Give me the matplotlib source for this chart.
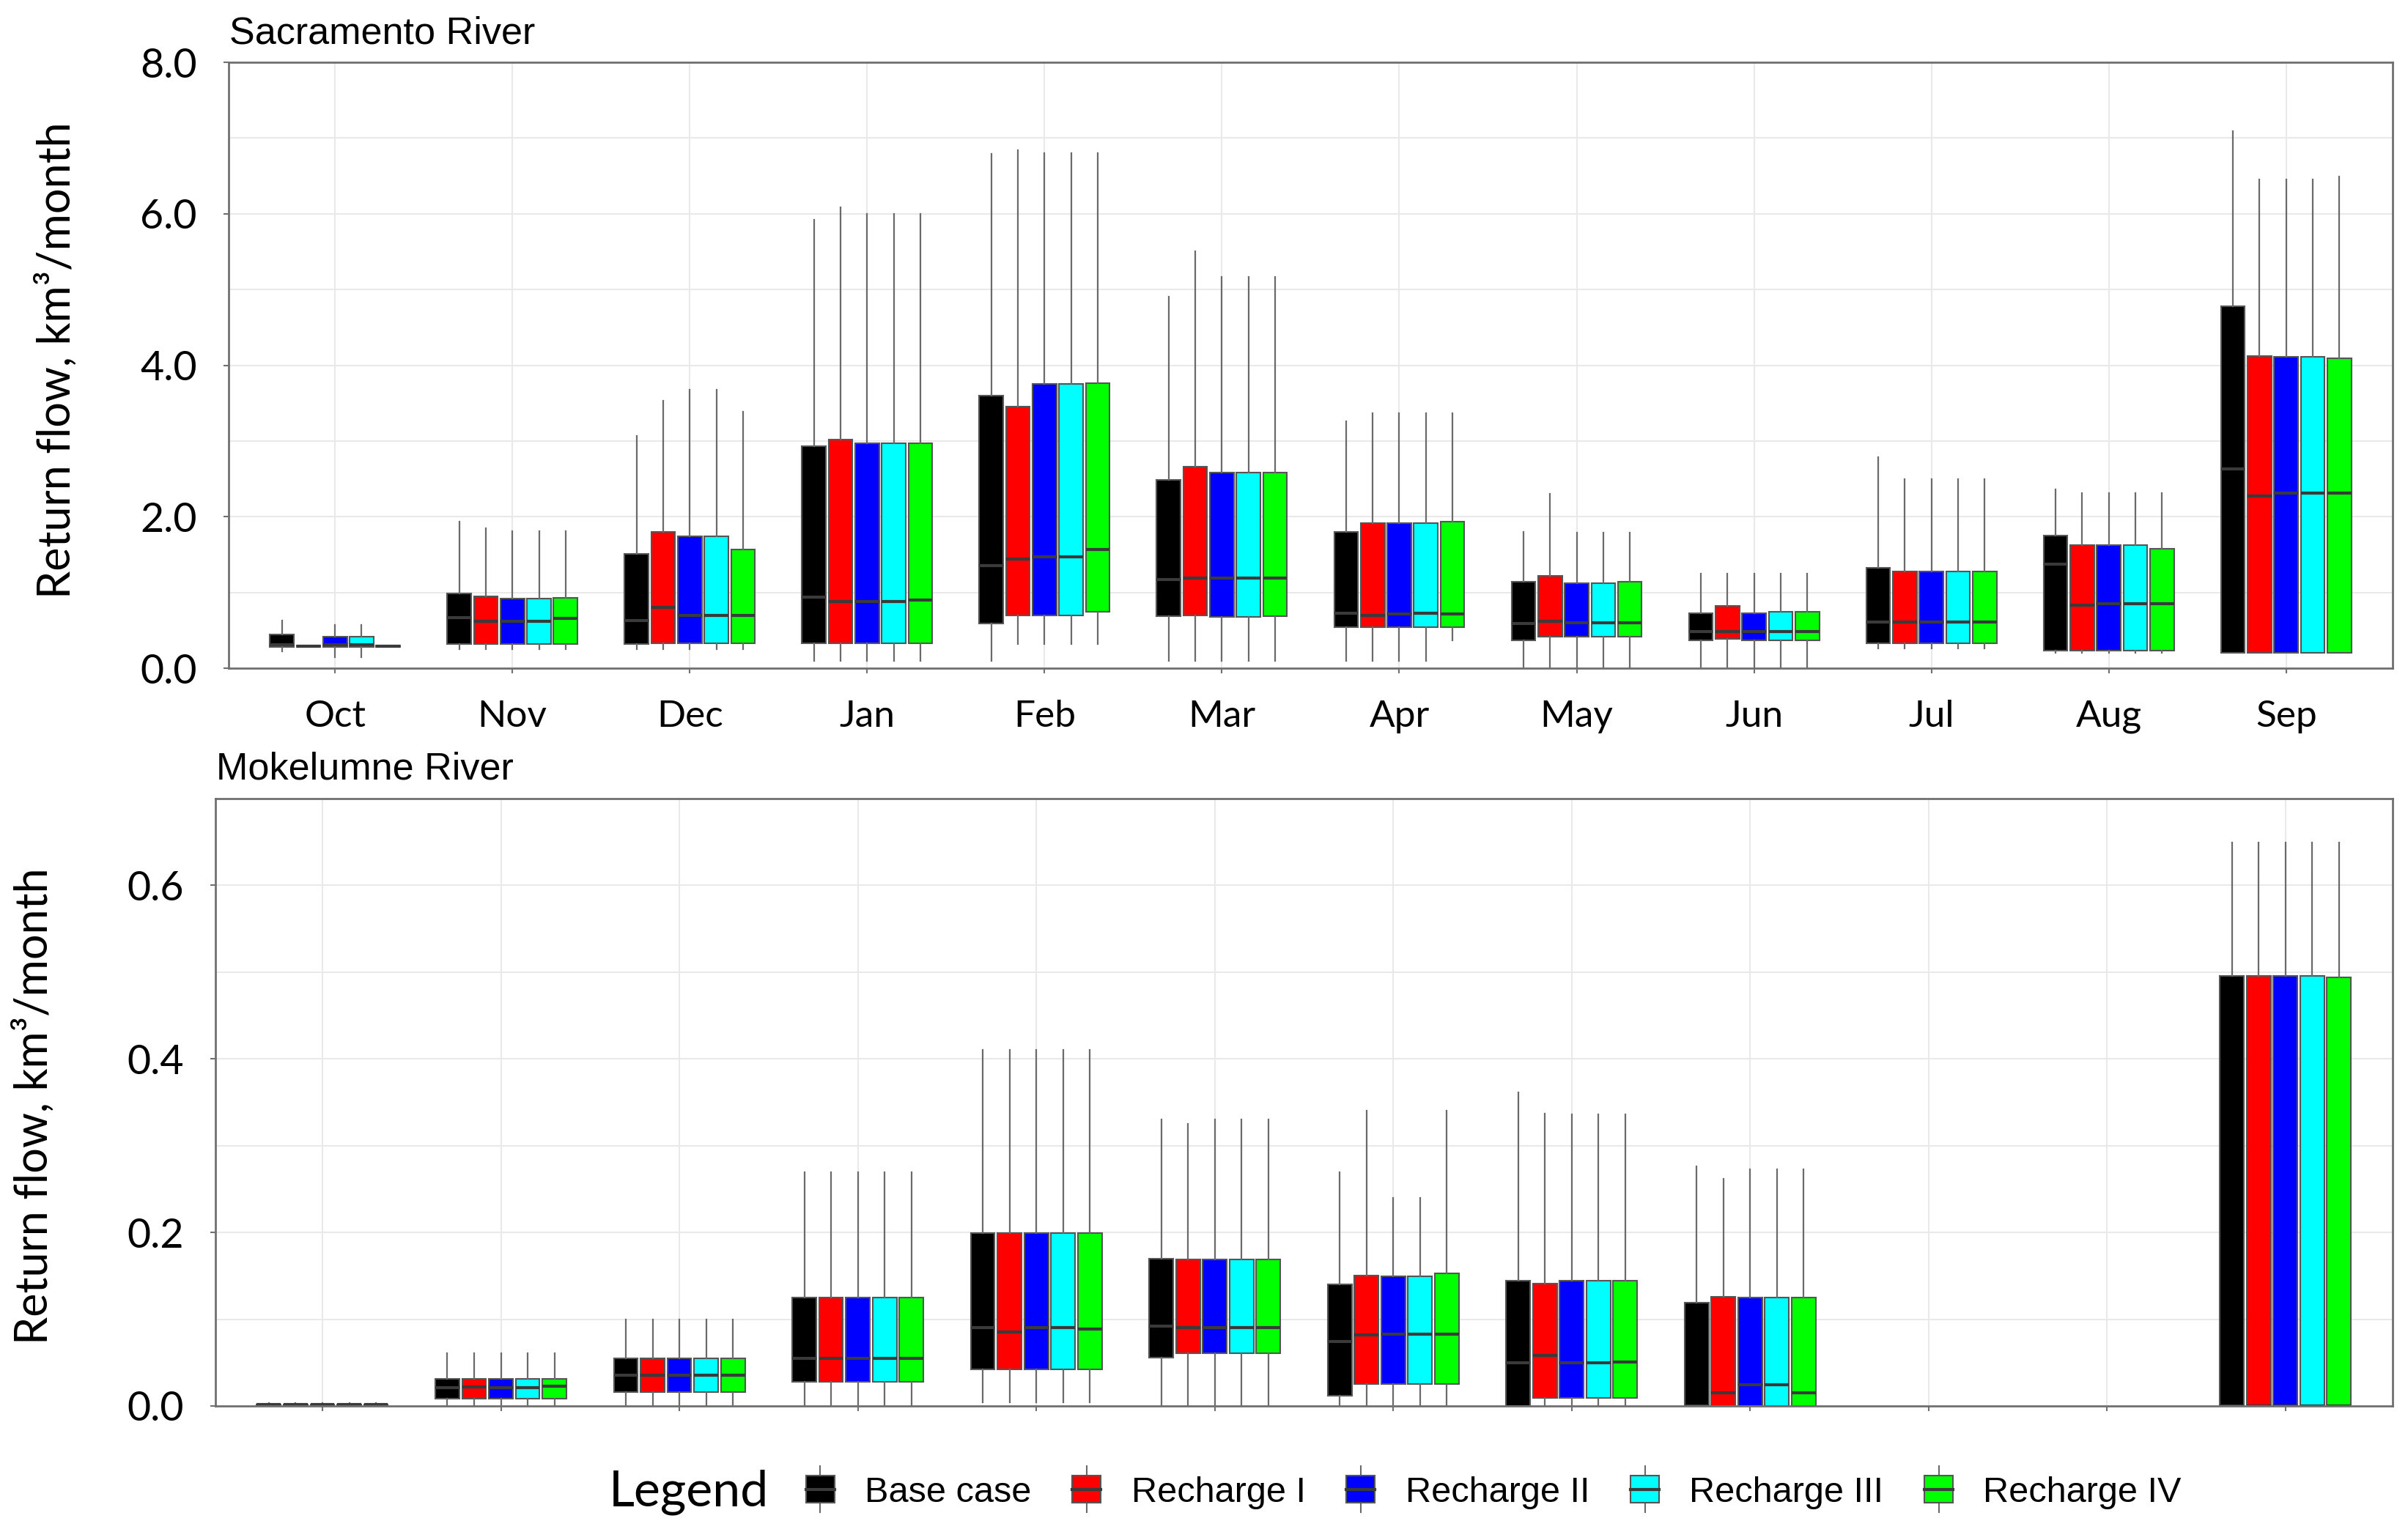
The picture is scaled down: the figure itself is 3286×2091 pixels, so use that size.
import numpy as np
import matplotlib.pyplot as plt
from matplotlib.legend_handler import HandlerBase
from matplotlib.patches import Patch, Rectangle
from matplotlib.lines import Line2D
from matplotlib.ticker import MultipleLocator, FormatStrFormatter

# months and scenarios
months = ['Oct', 'Nov', 'Dec', 'Jan', 'Feb', 'Mar', 'Apr', 'May', 'Jun', 'Jul', 'Aug', 'Sep']
scenarios = ['Base case', 'Recharge I', 'Recharge II', 'Recharge III', 'Recharge IV']
colors = ['#000000', '#ff0000', '#0000ff', '#00ffff', '#00ff00']
nan = np.nan

# Sacramento River, km3/month (rows = scenarios, cols = months)
sac_lo = [[0.22, 0.25, 0.25, 0.10, 0.10, 0.10, 0.10, 0.00, 0.00, 0.26, 0.20, 0.20],
          [0.28, 0.25, 0.25, 0.10, 0.32, 0.10, 0.10, 0.00, 0.00, 0.26, 0.20, 0.20],
          [0.15, 0.25, 0.25, 0.10, 0.32, 0.10, 0.10, 0.00, 0.00, 0.26, 0.20, 0.20],
          [0.15, 0.25, 0.25, 0.10, 0.32, 0.10, 0.10, 0.00, 0.00, 0.26, 0.20, 0.20],
          [0.28, 0.25, 0.25, 0.10, 0.32, 0.10, 0.37, 0.00, 0.00, 0.26, 0.20, 0.20]]
sac_q1 = [[0.28, 0.32, 0.32, 0.33, 0.59, 0.69, 0.54, 0.37, 0.37, 0.33, 0.23, 0.20],
          [0.28, 0.32, 0.33, 0.33, 0.70, 0.70, 0.54, 0.42, 0.39, 0.33, 0.23, 0.20],
          [0.28, 0.32, 0.33, 0.33, 0.70, 0.68, 0.54, 0.42, 0.37, 0.33, 0.23, 0.20],
          [0.28, 0.32, 0.33, 0.33, 0.70, 0.68, 0.54, 0.42, 0.37, 0.33, 0.23, 0.20],
          [0.28, 0.32, 0.33, 0.33, 0.75, 0.69, 0.54, 0.42, 0.37, 0.33, 0.23, 0.20]]
sac_med = [[0.31, 0.67, 0.63, 0.94, 1.36, 1.17, 0.73, 0.59, 0.48, 0.61, 1.37, 2.63],
           [0.29, 0.62, 0.80, 0.88, 1.44, 1.19, 0.70, 0.62, 0.48, 0.61, 0.83, 2.27],
           [0.31, 0.62, 0.70, 0.88, 1.47, 1.19, 0.72, 0.60, 0.48, 0.61, 0.85, 2.31],
           [0.31, 0.62, 0.70, 0.88, 1.47, 1.19, 0.73, 0.60, 0.48, 0.61, 0.85, 2.31],
           [0.29, 0.66, 0.70, 0.90, 1.57, 1.19, 0.72, 0.60, 0.48, 0.61, 0.85, 2.31]]
sac_q3 = [[0.45, 0.99, 1.51, 2.93, 3.60, 2.49, 1.80, 1.14, 0.73, 1.33, 1.75, 4.78],
          [0.30, 0.95, 1.80, 3.02, 3.45, 2.66, 1.92, 1.22, 0.82, 1.28, 1.63, 4.12],
          [0.42, 0.92, 1.74, 2.97, 3.75, 2.58, 1.92, 1.12, 0.73, 1.28, 1.63, 4.11],
          [0.42, 0.92, 1.74, 2.97, 3.75, 2.58, 1.92, 1.12, 0.75, 1.28, 1.63, 4.11],
          [0.30, 0.93, 1.57, 2.97, 3.76, 2.58, 1.94, 1.14, 0.75, 1.28, 1.58, 4.09]]
sac_hi = [[0.63, 1.94, 3.07, 5.92, 6.79, 4.91, 3.26, 1.80, 1.25, 2.79, 2.36, 7.09],
          [0.30, 1.85, 3.53, 6.09, 6.84, 5.51, 3.37, 2.30, 1.25, 2.50, 2.31, 6.45],
          [0.57, 1.81, 3.68, 6.00, 6.80, 5.17, 3.37, 1.79, 1.25, 2.50, 2.31, 6.45],
          [0.57, 1.81, 3.68, 6.00, 6.80, 5.17, 3.37, 1.79, 1.25, 2.50, 2.31, 6.45],
          [0.30, 1.81, 3.39, 6.00, 6.80, 5.17, 3.37, 1.79, 1.25, 2.50, 2.31, 6.49]]

# Mokelumne River, km3/month (no boxes drawn in Jul/Aug)
mok_lo = [[0.001, 0.0, 0.0, 0.0, 0.004, 0.0, 0.0, 0.0, 0.0, nan, nan, 0.0],
          [0.001, 0.0, 0.0, 0.0, 0.004, 0.0, 0.0, 0.0, 0.0, nan, nan, 0.0],
          [0.001, 0.0, 0.0, 0.0, 0.004, 0.0, 0.0, 0.0, 0.0, nan, nan, 0.0],
          [0.001, 0.0, 0.0, 0.0, 0.004, 0.0, 0.0, 0.0, 0.0, nan, nan, 0.0],
          [0.001, 0.0, 0.0, 0.0, 0.004, 0.0, 0.0, 0.0, 0.0, nan, nan, 0.0]]
mok_q1 = [[0.001, 0.0085, 0.016, 0.028, 0.042, 0.056, 0.012, 0.0, 0.0, nan, nan, 0.0],
          [0.001, 0.0085, 0.016, 0.028, 0.042, 0.061, 0.025, 0.0095, 0.0, nan, nan, 0.0],
          [0.001, 0.0085, 0.016, 0.028, 0.042, 0.061, 0.025, 0.0095, 0.0, nan, nan, 0.0],
          [0.001, 0.0085, 0.016, 0.028, 0.042, 0.061, 0.025, 0.0095, 0.0, nan, nan, 0.0],
          [0.001, 0.0085, 0.016, 0.028, 0.042, 0.061, 0.025, 0.0095, 0.0, nan, nan, 0.0]]
mok_med = [[0.0015, 0.021, 0.035, 0.055, 0.090, 0.092, 0.074, 0.050, 0.0, nan, nan, 0.0],
           [0.0015, 0.022, 0.035, 0.055, 0.085, 0.090, 0.082, 0.058, 0.015, nan, nan, 0.0],
           [0.0015, 0.021, 0.035, 0.055, 0.090, 0.090, 0.083, 0.050, 0.024, nan, nan, 0.0],
           [0.0015, 0.021, 0.035, 0.055, 0.090, 0.090, 0.083, 0.050, 0.024, nan, nan, 0.0],
           [0.0015, 0.023, 0.035, 0.055, 0.089, 0.090, 0.083, 0.051, 0.015, nan, nan, 0.0]]
mok_q3 = [[0.002, 0.031, 0.055, 0.125, 0.199, 0.170, 0.140, 0.144, 0.119, nan, nan, 0.496],
          [0.002, 0.031, 0.055, 0.125, 0.199, 0.169, 0.150, 0.141, 0.126, nan, nan, 0.496],
          [0.002, 0.031, 0.055, 0.125, 0.199, 0.169, 0.149, 0.144, 0.125, nan, nan, 0.496],
          [0.002, 0.031, 0.055, 0.125, 0.199, 0.169, 0.149, 0.144, 0.125, nan, nan, 0.496],
          [0.002, 0.031, 0.055, 0.125, 0.199, 0.169, 0.153, 0.144, 0.125, nan, nan, 0.494]]
mok_hi = [[0.003, 0.061, 0.100, 0.269, 0.410, 0.330, 0.269, 0.361, 0.276, nan, nan, 0.649],
          [0.003, 0.061, 0.100, 0.269, 0.410, 0.325, 0.340, 0.337, 0.262, nan, nan, 0.649],
          [0.003, 0.061, 0.100, 0.269, 0.410, 0.330, 0.240, 0.336, 0.273, nan, nan, 0.649],
          [0.003, 0.061, 0.100, 0.269, 0.410, 0.330, 0.240, 0.336, 0.273, nan, nan, 0.649],
          [0.003, 0.061, 0.100, 0.269, 0.410, 0.330, 0.340, 0.336, 0.273, nan, nan, 0.649]]

TICK_FONT = 'Lato'
TEXT_FONT = 'Liberation Sans'
GRID = '#e9e9e9'
SPINE = '#707070'


def draw_panel(ax, lo, q1, med, q3, hi):
    x = np.arange(1, 13)
    for k in range(5):
        stats, pos = [], []
        for m in range(12):
            if np.isnan(q3[k][m]):
                continue
            stats.append(dict(whislo=lo[k][m], q1=q1[k][m], med=med[k][m],
                              q3=q3[k][m], whishi=hi[k][m], fliers=[]))
            pos.append(x[m] + (k - 2) * 0.15)
        ax.bxp(stats, positions=pos, widths=0.135,
               patch_artist=True, showcaps=False, showfliers=False, manage_ticks=False,
               boxprops=dict(facecolor=colors[k], edgecolor='#555555', linewidth=1.5),
               whiskerprops=dict(color='#6a6a6a', linewidth=1.6),
               medianprops=dict(color='#3a3a3a', linewidth=3))
    ax.set_xlim(0.4, 12.6)
    ax.set_xticks(x)
    ax.grid(which='both', axis='y', color=GRID, lw=1.5)
    ax.grid(which='major', axis='x', color=GRID, lw=1.5)
    ax.set_axisbelow(True)
    for s in ax.spines.values():
        s.set_color(SPINE)
        s.set_linewidth(2)
    ax.tick_params(which='major', length=5, color=SPINE, width=1.5)
    ax.tick_params(axis='y', pad=26, labelsize=40)
    ax.tick_params(axis='x', pad=26, labelsize=37)
    ax.tick_params(which='minor', length=0)


fig = plt.figure(figsize=(32.87, 20.91), dpi=100)
ax1 = fig.add_axes([0.0949, 0.5638, 0.8984, 0.3955])
ax2 = fig.add_axes([0.0894, 0.0823, 0.9039, 0.3964])

draw_panel(ax1, sac_lo, sac_q1, sac_med, sac_q3, sac_hi)
ax1.set_ylim(0, 8)
ax1.yaxis.set_major_locator(MultipleLocator(2))
ax1.yaxis.set_minor_locator(MultipleLocator(1))
ax1.yaxis.set_major_formatter(FormatStrFormatter('%.1f'))
ax1.set_xticklabels(months)
for lab in ax1.get_yticklabels() + ax1.get_xticklabels():
    lab.set_fontfamily(TICK_FONT)

draw_panel(ax2, mok_lo, mok_q1, mok_med, mok_q3, mok_hi)
ax2.set_ylim(0, 0.7)
ax2.yaxis.set_major_locator(MultipleLocator(0.2))
ax2.yaxis.set_minor_locator(MultipleLocator(0.1))
ax2.yaxis.set_major_formatter(FormatStrFormatter('%.1f'))
ax2.set_xticklabels([])
for lab in ax2.get_yticklabels():
    lab.set_fontfamily(TICK_FONT)

# panel titles and axis labels
fig.text(0.0952, 0.978, 'Sacramento River', fontsize=37.5, family=TEXT_FONT, va='center')
fig.text(0.0897, 0.498, 'Mokelumne River', fontsize=37.5, family=TEXT_FONT, va='center')
ylab = 'Return flow, km\u00b3/month'
fig.text(0.0234, 0.7647, ylab, rotation=90, fontsize=44, family=TICK_FONT, ha='center', va='center')
fig.text(0.0140, 0.278, ylab, rotation=90, fontsize=44, family=TICK_FONT, ha='center', va='center')


class BoxIcon(HandlerBase):
    def create_artists(self, legend, orig_handle, xdescent, ydescent, width, height,
                       fontsize, trans):
        cx = -xdescent + width / 2
        bw = 0.5 * width
        y0 = -ydescent - 0.05 * height
        bh = 1.1 * height
        whisk = Line2D([cx, cx], [y0 - 0.35 * bh, y0 + 1.35 * bh],
                       color='#6a6a6a', lw=1.5, transform=trans)
        box = Rectangle((cx - bw / 2, y0), bw, bh, facecolor=orig_handle.get_facecolor(),
                        edgecolor='#555555', lw=1.5, transform=trans)
        med = Line2D([cx - bw / 2, cx + bw / 2], [y0 + bh / 2] * 2,
                     color='#3a3a3a', lw=3, transform=trans)
        return [whisk, box, med]


handles = [Patch(facecolor=c, edgecolor='#555555') for c in colors]
fig.legend(handles, scenarios, handler_map={Patch: BoxIcon()}, ncol=5, frameon=False,
           loc='center left', bbox_to_anchor=(0.3213, 0.0258), borderpad=0,
           prop={'family': TEXT_FONT, 'size': 35}, handlelength=1.6,
           handletextpad=0.45, columnspacing=0.75)
fig.text(0.2528, 0.0258, 'Legend', fontsize=49, family=TICK_FONT, va='center')

fig.savefig('out.png', dpi=100)
